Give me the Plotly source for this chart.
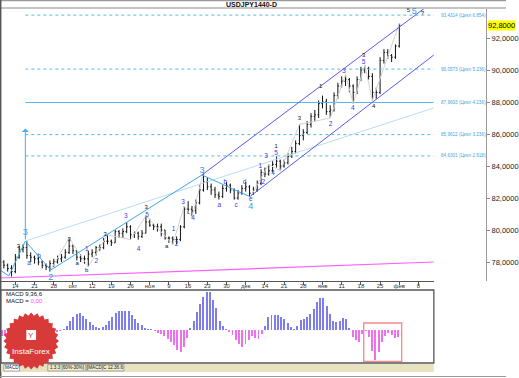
import numpy as np
import plotly.graph_objects as go

W, H = 519, 378

# ---------------- data ----------------
bar_idx = list(range(105))
opens = [78.2, 78.0, 77.8, 77.6, 77.4, 78.3, 78.8, 78.9, 78.4, 78.3,
         78.2, 78.0, 77.8, 77.7, 77.9, 78.0, 78.2, 78.3, 78.6, 79.0,
         78.7, 78.3, 78.2, 78.2, 78.5, 78.6, 78.9, 78.9, 79.3, 79.3,
         79.2, 79.9, 79.8, 79.9, 80.2, 79.7, 79.8, 79.6, 79.8, 80.5,
         80.3, 80.2, 80.2, 80.0, 79.5, 79.5, 79.4, 79.4, 80.2, 81.3,
         81.3, 81.2, 81.7, 82.5, 83.0, 82.7, 82.5, 82.2, 82.1, 82.6,
         82.8, 82.5, 82.0, 82.3, 82.6, 82.7, 82.3, 82.5, 82.9, 83.6,
         83.5, 83.7, 84.1, 84.3, 84.0, 84.2, 84.6, 84.9, 85.4, 85.9,
         86.1, 86.6, 87.1, 87.2, 87.9, 88.0, 87.4, 87.5, 88.4, 89.0,
         89.3, 89.4, 89.0, 88.6, 89.4, 90.0, 90.1, 89.6, 88.6, 88.6,
         90.6, 91.1, 90.9, 90.8, 91.5]
highs = [78.4, 78.1, 77.9, 77.8, 78.5, 79.0, 79.1, 79.3, 78.6, 78.4,
         78.3, 78.1, 77.9, 78.1, 78.2, 78.4, 78.5, 78.8, 79.5, 79.1,
         78.7, 78.5, 78.4, 78.7, 78.8, 79.0, 79.1, 79.5, 79.7, 79.4,
         80.0, 80.0, 80.1, 80.5, 80.3, 79.9, 79.9, 80.0, 80.9, 80.7,
         80.4, 80.4, 80.4, 80.0, 79.6, 79.6, 79.6, 80.3, 81.5, 81.8,
         81.5, 81.9, 82.8, 83.6, 83.3, 82.9, 82.7, 82.4, 82.8, 83.0,
         82.9, 82.6, 82.5, 82.8, 83.0, 82.8, 82.7, 83.1, 83.8, 83.9,
         84.1, 84.3, 84.6, 84.4, 84.4, 84.8, 85.2, 85.6, 86.6, 86.3,
         86.8, 87.3, 87.5, 88.1, 88.4, 88.2, 87.8, 88.6, 89.2, 89.6,
         89.7, 89.5, 89.1, 89.6, 90.2, 90.3, 90.2, 89.8, 88.9, 90.8,
         91.3, 91.3, 91.0, 91.6, 92.9]
lows = [77.9, 77.6, 77.4, 77.1, 77.3, 78.2, 78.6, 78.2, 78.0, 77.9,
        77.8, 77.6, 77.5, 77.4, 77.7, 77.9, 78.0, 78.2, 78.5, 78.5,
        78.1, 78.0, 77.9, 77.7, 78.3, 78.4, 78.7, 78.8, 79.1, 79.0,
        79.2, 79.5, 79.5, 79.8, 79.4, 79.5, 79.4, 79.5, 79.8, 80.2,
        80.0, 79.9, 79.6, 79.4, 79.2, 79.1, 79.1, 79.3, 80.1, 81.0,
        80.8, 81.0, 81.6, 82.4, 82.5, 82.2, 82.0, 81.9, 82.0, 82.4,
        82.3, 81.9, 81.9, 82.2, 82.4, 82.1, 82.2, 82.4, 82.8, 83.3,
        83.4, 83.6, 83.9, 83.7, 83.9, 84.1, 84.5, 84.8, 85.3, 85.6,
        86.0, 86.4, 86.8, 87.0, 87.6, 87.2, 87.0, 87.4, 88.2, 88.9,
        89.0, 88.6, 87.9, 88.5, 89.3, 89.8, 89.4, 88.1, 88.2, 88.5,
        90.4, 90.7, 90.5, 90.7, 91.4]
closes = [78.0, 77.8, 77.6, 77.4, 78.3, 78.8, 78.9, 78.4, 78.3, 78.2,
          78.0, 77.8, 77.7, 77.9, 78.0, 78.2, 78.3, 78.6, 79.0, 78.7,
          78.3, 78.2, 78.2, 78.5, 78.6, 78.9, 78.9, 79.3, 79.3, 79.2,
          79.9, 79.8, 79.9, 80.2, 79.7, 79.8, 79.6, 79.8, 80.5, 80.3,
          80.2, 80.2, 80.0, 79.5, 79.5, 79.4, 79.4, 80.2, 81.3, 81.3,
          81.2, 81.7, 82.5, 83.0, 82.7, 82.5, 82.2, 82.1, 82.6, 82.8,
          82.5, 82.0, 82.3, 82.6, 82.7, 82.3, 82.5, 82.9, 83.6, 83.5,
          83.7, 84.1, 84.3, 84.0, 84.2, 84.6, 84.9, 85.4, 85.9, 86.1,
          86.6, 87.1, 87.2, 87.9, 88.0, 87.4, 87.5, 88.4, 89.0, 89.3,
          89.4, 89.0, 88.6, 89.4, 90.0, 90.1, 89.6, 88.6, 88.6, 90.6,
          91.1, 90.9, 90.8, 91.5, 92.8]

# date axis (bar index of each weekly label)
date_ticks = [4, 9, 14, 19, 24, 29, 34, 39, 44, 49, 54, 59, 64, 69, 74, 79,
              84, 89, 94, 99, 104, 109]
date_labels = ["14", "21", "28", "окт", "12", "19", "26", "ноя", "9", "16", "23",
               "30", "дек", "14", "21", "28", "янв", "11", "18", "25", "фев", "8"]

price_ticks = [78, 80, 82, 84, 86, 88, 90, 92]
price_labels = ["78,0000", "80,0000", "82,0000", "84,0000", "86,0000",
                "88,0000", "90,0000", "92,0000"]
last_price = 92.8

macd_hist = [-0.06, -0.06, -0.05, -0.04, -0.03, -0.01, 0.01, 0.03, 0.04, 0.03,
             0.02, 0.00, -0.02, -0.03, -0.04, -0.04, -0.03, -0.02, -0.01, 0.01,
             0.04, 0.09, 0.13, 0.16, 0.17, 0.14, 0.11, 0.08, 0.05, 0.03,
             0.02, 0.03, 0.05, 0.09, 0.13, 0.17, 0.19, 0.19, 0.19, 0.19,
             0.15, 0.11, 0.07, 0.05, 0.02, 0.01, 0.005, -0.01, -0.03, -0.04,
             -0.06, -0.09, -0.12, -0.15, -0.20, -0.22, -0.17, -0.08, 0.02, 0.09,
             0.18, 0.26, 0.33, 0.38, 0.38, 0.30, 0.22, 0.09, 0.04, 0.01,
             -0.02, -0.05, -0.10, -0.14, -0.17, -0.14, -0.10, -0.06, -0.08, -0.09,
             -0.04, 0.04, 0.13, 0.15, 0.15, 0.15, 0.13, 0.11, 0.07, 0.03,
             0.01, 0.04, 0.10, 0.11, 0.13, 0.16, 0.21, 0.28, 0.32, 0.32,
             0.24, 0.16, 0.09, 0.08, 0.09, 0.12, 0.11, 0.02, -0.07, -0.10,
             -0.12, -0.04, -0.01, -0.07, -0.21, -0.30, -0.22, -0.12, -0.06, -0.03,
             -0.05, -0.08, -0.07]
macd_idx = list(range(len(macd_hist)))

fib_levels = [93.4314, 90.0573, 87.9693, 85.9612, 84.6301]
fib_ratios = ["6.854", "5.236", "4.236", "3.236", "2.618"]
fib_start = 6.6

# wave marks (bar index, price)
big_x = [6.6, 13.2, 52.6, 65.3, 107.9]
big_y = [79.81, 77.0, 83.69, 81.45, 93.63]
big_t = ["3", "2", "3", "4", "5"]
blue_x = [7.6, 10.2, 22.6, 25.1, 32.8, 36.1, 38.3, 45.2, 46.0, 47.7, 50.3, 57.1, 58.7,
          61.5, 63.7, 65.3, 67.8, 68.6, 69.3, 71.1, 71.9, 86.1, 89.6, 91.9, 94.7]
blue_y = [77.94, 78.38, 78.81, 78.06, 80.88, 78.81, 80.94, 80.06, 79.13, 81.75, 80.75,
          81.56, 83.0, 81.56, 83.0, 81.94, 84.0, 83.0, 84.63, 83.56, 84.81, 86.63,
          89.94, 87.63, 90.5]
blue_t = ["a", "b", "1", "2", "3", "4", "5", "1", "2", "3", "4", "a", "b", "c", "d", "e",
          "1", "2", "3", "4", "5", "2", "3", "4", "5"]
black_x = [4.8, 18.0, 20.1, 22.6, 27.4, 38.1, 43.4, 71.9, 78.0, 83.5, 94.7, 97.3, 106.4, 110.0]
black_y = [79.0, 79.38, 77.9, 77.45, 79.69, 81.38, 78.95, 85.19, 86.94, 89.0, 90.88,
           87.75, 93.69, 93.56]
black_t = ["3", "3", "a", "b", "3", "3", "a", "1", "3", "1", "3", "4", "5", "?"]

zig_x = [0, 2.3, 6.6, 13.2, 52.6, 65.3]
zig_y = [77.5, 77.13, 79.31, 77.5, 83.44, 82.06]
pale_x = [6.6, 113]
pale_y = [79.31, 87.63]
chan_up_x = [52.6, 111.0]
chan_up_y = [83.44, 93.94]
chan_lo_x = [65.3, 113.0]
chan_lo_y = [82.13, 90.94]
pink_x = [0, 113]
pink_y = [77.0, 78.0]
sub1_x = [13.2, 18, 23, 28, 34, 38, 45, 48, 50, 53]
sub1_y = [77.5, 79.5, 77.7, 79.7, 79.4, 80.9, 79.1, 81.5, 80.8, 83.6]
sub2_x = [65.3, 70, 73, 78, 86, 90, 92, 95, 97, 104]
sub2_y = [82.1, 84.1, 83.7, 86.6, 87.0, 89.7, 87.9, 90.3, 88.1, 92.9]

# ---------------- layout helpers ----------------
def px(x):
    return x / W

def py(y):
    return 1 - y / H

FONT = "Liberation Sans, Arial, sans-serif"
MAIN_RIGHT = px(445)
main_dom = [py(281), py(9)]
macd_dom = [py(362), py(291)]

fig = go.Figure()

def line(xs, ys, color, width=1, dash="solid"):
    fig.add_trace(go.Scatter(x=xs, y=ys, mode="lines", line=dict(color=color, width=width, dash=dash),
                             hoverinfo="skip", showlegend=False, xaxis="x", yaxis="y"))

for lv in fib_levels:
    line([fib_start, 113], [lv, lv], "#55b8ee", 1, "solid" if lv == 87.9693 else "dot")
line(pink_x, pink_y, "#ff5cff", 1.2)
line(pale_x, pale_y, "#b8dcf2", 1)
line(sub1_x, sub1_y, "#d2d2d2", 1)
line(sub2_x, sub2_y, "#d2d2d2", 1)
line(zig_x, zig_y, "#3fa6e8", 1)
line(chan_up_x, chan_up_y, "#5a5af0", 1)
line(chan_lo_x, chan_lo_y, "#5a5af0", 1)

fig.add_trace(go.Ohlc(x=bar_idx, open=opens, high=highs, low=lows, close=closes,
                      increasing=dict(line=dict(color="#111111", width=1)),
                      decreasing=dict(line=dict(color="#111111", width=1)),
                      tickwidth=0.3, showlegend=False, hoverinfo="skip",
                      xaxis="x", yaxis="y"))

def labels(xs, ys, ts, color, size):
    fig.add_trace(go.Scatter(x=xs, y=ys, text=ts, mode="text",
                             textfont=dict(color=color, size=size, family=FONT),
                             cliponaxis=False, hoverinfo="skip", showlegend=False,
                             xaxis="x", yaxis="y"))

labels(black_x, black_y, black_t, "#111111", 6)
labels(blue_x, blue_y, blue_t, "#3b3bdc", 6.5)
labels(big_x, big_y, big_t, "#2e9fe6", 9)

# MACD histogram
fig.add_trace(go.Bar(x=macd_idx, y=macd_hist, width=0.3,
                     marker=dict(color=["#7d7df0" if v >= 0 else "#f06ef0" for v in macd_hist],
                                 line=dict(width=0)),
                     showlegend=False, hoverinfo="skip", xaxis="x2", yaxis="y2"))

shapes = []
ann = []

def text_ann(x, y, text, size, color, xanchor="center", xref="paper", yref="paper", **kw):
    d = dict(xref=xref, yref=yref, x=x, y=y, text=text, showarrow=False,
             xanchor=xanchor, yanchor="middle",
             font=dict(size=size, color=color, family=FONT))
    d.update(kw)
    ann.append(d)

# frame lines
shapes += [
    dict(type="line", xref="paper", yref="paper", x0=0, x1=1, y0=py(0.5), y1=py(0.5),
         line=dict(color="#9a9a9a", width=1.5)),
    dict(type="line", xref="paper", yref="paper", x0=0, x1=1, y0=py(8), y1=py(8),
         line=dict(color="#8a8a8a", width=1)),
    dict(type="line", xref="paper", yref="paper", x0=px(0.7), x1=px(0.7), y0=0, y1=1,
         line=dict(color="#555555", width=1.5)),
    dict(type="line", xref="paper", yref="paper", x0=0, x1=1, y0=py(376.5), y1=py(376.5),
         line=dict(color="#9a9a9a", width=1)),
    dict(type="rect", xref="paper", yref="paper", x0=px(0.7), x1=MAIN_RIGHT, y0=py(363), y1=py(290),
         line=dict(color="#555555", width=1.3)),
    dict(type="rect", xref="paper", yref="paper", x0=px(1), x1=MAIN_RIGHT, y0=py(372), y1=py(364),
         fillcolor="#e6e2c2", line=dict(width=0)),
    dict(type="rect", xref="paper", yref="paper", x0=px(4), x1=px(20), y0=py(371), y1=py(364.5),
         fillcolor="#ffffff", line=dict(color="#8a8a8a", width=0.7)),
    dict(type="rect", xref="paper", yref="paper", x0=px(49), x1=px(88), y0=py(371), y1=py(364.5),
         fillcolor="#ece8cc", line=dict(color="#8a8a8a", width=0.7)),
    dict(type="rect", xref="paper", yref="paper", x0=px(89), x1=px(127), y0=py(371), y1=py(364.5),
         fillcolor="#ece8cc", line=dict(color="#8a8a8a", width=0.7)),
    dict(type="rect", xref="x2", yref="y2", x0=111.4, x1=123.1, y0=-0.315, y1=0.07,
         line=dict(color="#f08a8a", width=1.3)),
]

# InstaForex badge (starburst)
cx, cy = 32, 341
ang = np.linspace(0, 2 * np.pi, 57)[:-1]
rad = np.where(np.arange(56) % 2 == 0, 28.5, 25.5)
pts = [(px(cx + r * np.cos(a)), py(cy + r * np.sin(a))) for a, r in zip(ang, rad)]
path = "M " + " L ".join(f"{x:.5f},{y:.5f}" for x, y in pts) + " Z"
shapes.append(dict(type="path", xref="paper", yref="paper", path=path,
                   fillcolor="#d83a3a", line=dict(width=0), layer="above"))
shapes.append(dict(type="rect", xref="paper", yref="paper", x0=px(27), x1=px(37), y0=py(340), y1=py(330),
                   fillcolor="#ffffff", line=dict(width=0), layer="above"))
text_ann(px(32), py(335), "Y", 8, "#d83a3a")
text_ann(px(32), py(351), "InstaForex", 8, "#ffffff")

# fib labels
for lv, r in zip(fib_levels, fib_ratios):
    text_ann(px(450), lv, f"{lv:.4f}".replace(".", ",") + f" (Цикл {r})", 4.6, "#3fa6e8",
             xanchor="left", yref="y")

# vertical arrow line
ann.append(dict(xref="x", yref="y", x=fib_start, y=86.35, axref="x", ayref="y",
                ax=fib_start, ay=79.31, text="", showarrow=True, arrowhead=1,
                arrowsize=1.2, arrowwidth=1, arrowcolor="#40aef0"))

# last price
text_ann(px(500), last_price, "92,8000", 7.5, "#000000", xanchor="left", yref="y",
         bgcolor="#ffff00", borderpad=0)

# title
text_ann(px(258), py(4.2), "<b>USDJPY1440-D</b>", 7, "#111111")

# MACD texts
text_ann(px(4), py(294), "MACD 9,36,6", 6, "#111111", xanchor="left")
text_ann(px(4), py(300.5), "MACD = <span style='color:#ff44ff'>0,00</span>", 6, "#111111",
         xanchor="left")

# tabs texts
for tx, t in [(12, "MACD"), (68.5, "1.3.3 [60%-30%]"), (108, "[MACD]C 12.36.6")]:
    text_ann(px(tx), py(367.7), t, 4.6, "#222222")

fig.update_layout(
    width=W, height=H, margin=dict(l=0, r=0, t=0, b=0, pad=0),
    paper_bgcolor="#ffffff", plot_bgcolor="#ffffff",
    showlegend=False, bargap=0,
    shapes=shapes, annotations=ann,
    xaxis=dict(domain=[0, MAIN_RIGHT], range=[0, 113], anchor="y",
               tickvals=date_ticks, ticktext=date_labels, ticks="outside", ticklen=3,
               ticklabelstandoff=-4,
               tickcolor="#555555", showline=True, linecolor="#555555", linewidth=1,
               showgrid=False, zeroline=False, rangeslider=dict(visible=False),
               tickfont=dict(size=6, color="#333333", family=FONT)),
    yaxis=dict(domain=main_dom, range=[76.8125, 93.8125], side="right", anchor="free",
               position=px(498.5), tickvals=price_ticks, ticktext=price_labels,
               ticks="outside", ticklen=3, tickcolor="#888888", showline=True,
               linecolor="#9a9a9a", linewidth=1, showgrid=False, zeroline=False,
               tickfont=dict(size=7.5, color="#222222", family=FONT)),
    xaxis2=dict(domain=[0, MAIN_RIGHT], range=[-0.6, 133], anchor="y2", visible=False),
    yaxis2=dict(domain=macd_dom, range=[-0.32, 0.39], anchor="x2", visible=False),
)

fig.write_html("out.html")
